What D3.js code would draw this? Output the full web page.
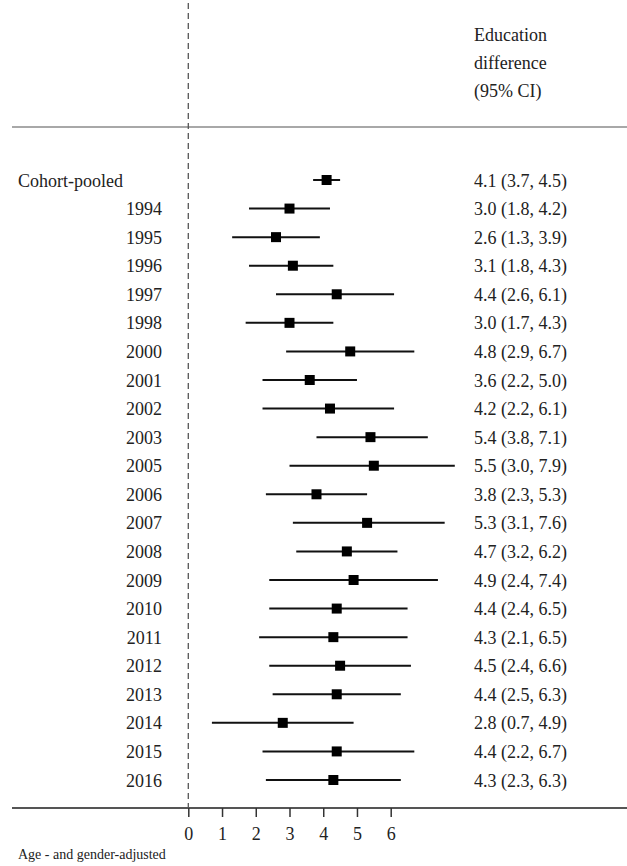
<!DOCTYPE html>
<html>
<head>
<meta charset="utf-8">
<script src="https://cdn.jsdelivr.net/npm/d3@7"></script>
<style>
  body { margin: 0; background: #fff; }
  svg text { font-family: "Liberation Serif", "Times New Roman", serif; fill: #222; }
</style>
</head>
<body>
<div id="chart"></div>
<script>
// rows of the forest plot, top to bottom
const labels = ['Cohort-pooled', '1994', '1995', '1996', '1997', '1998', '2000', '2001', '2002', '2003',
  '2005', '2006', '2007', '2008', '2009', '2010', '2011', '2012', '2013', '2014', '2015', '2016'];
const estimates = [4.1, 3.0, 2.6, 3.1, 4.4, 3.0, 4.8, 3.6, 4.2, 5.4, 5.5, 3.8, 5.3, 4.7, 4.9, 4.4, 4.3, 4.5, 4.4, 2.8, 4.4, 4.3];
const lower = [3.7, 1.8, 1.3, 1.8, 2.6, 1.7, 2.9, 2.2, 2.2, 3.8, 3.0, 2.3, 3.1, 3.2, 2.4, 2.4, 2.1, 2.4, 2.5, 0.7, 2.2, 2.3];
const upper = [4.5, 4.2, 3.9, 4.3, 6.1, 4.3, 6.7, 5.0, 6.1, 7.1, 7.9, 5.3, 7.6, 6.2, 7.4, 6.5, 6.5, 6.6, 6.3, 4.9, 6.7, 6.3];
const xTicks = [0, 1, 2, 3, 4, 5, 6];
const headerLines = ['Education', 'difference', '(95% CI)'];
const footnote = 'Age - and gender-adjusted';

const width = 627, height = 866;
const rows = labels.map((label, i) => ({ label, est: estimates[i], lo: lower[i], hi: upper[i] }));

const svg = d3.select('#chart').append('svg')
  .attr('width', width)
  .attr('height', height);

const x = d3.scaleLinear().domain([0, 6]).range([188.3, 390.7]);
const y = d3.scalePoint().domain(labels).range([180, 780]);
const axisY = 808;

// header
svg.append('g').selectAll('text')
  .data(headerLines)
  .enter().append('text')
  .attr('x', 474)
  .attr('y', (d, i) => 41 + i * 27.8)
  .attr('font-size', 18)
  .text(d => d);

svg.append('line')
  .attr('x1', 12).attr('x2', width)
  .attr('y1', 127).attr('y2', 127)
  .attr('stroke', '#a8a8a8')
  .attr('stroke-width', 2);

// reference line at zero
svg.append('line')
  .attr('x1', x(0)).attr('x2', x(0))
  .attr('y1', 3).attr('y2', axisY)
  .attr('stroke', '#555')
  .attr('stroke-width', 1.3)
  .attr('stroke-dasharray', '6,4');

// row labels
svg.append('g').selectAll('text')
  .data(rows)
  .enter().append('text')
  .attr('x', (d, i) => i === 0 ? 18 : 162)
  .attr('y', d => y(d.label) + 6.5)
  .attr('text-anchor', (d, i) => i === 0 ? 'start' : 'end')
  .attr('font-size', 18)
  .text(d => d.label);

// confidence intervals
svg.append('g').selectAll('line')
  .data(rows)
  .enter().append('line')
  .attr('x1', d => x(d.lo))
  .attr('x2', d => x(d.hi))
  .attr('y1', d => y(d.label))
  .attr('y2', d => y(d.label))
  .attr('stroke', '#111')
  .attr('stroke-width', 2);

// point estimates
const box = 10;
svg.append('g').selectAll('rect')
  .data(rows)
  .enter().append('rect')
  .attr('x', d => x(d.est) - box / 2)
  .attr('y', d => y(d.label) - box / 2)
  .attr('width', box)
  .attr('height', box)
  .attr('fill', '#000');

// estimate text column
svg.append('g').selectAll('text')
  .data(rows)
  .enter().append('text')
  .attr('x', 474)
  .attr('y', d => y(d.label) + 6.5)
  .attr('font-size', 18)
  .text(d => `${d.est.toFixed(1)} (${d.lo.toFixed(1)}, ${d.hi.toFixed(1)})`);

// bottom axis
svg.append('line')
  .attr('x1', 12).attr('x2', width)
  .attr('y1', axisY).attr('y2', axisY)
  .attr('stroke', '#555')
  .attr('stroke-width', 2);

const axis = svg.append('g')
  .attr('transform', `translate(0,${axisY})`)
  .call(d3.axisBottom(x).tickValues(xTicks).tickSize(9).tickPadding(10).tickFormat(d3.format('d')));
axis.select('.domain').remove();
axis.selectAll('.tick line').attr('stroke', '#333').attr('stroke-width', 1.5);
axis.selectAll('.tick text')
  .attr('font-size', 18)
  .style('font-family', '"Liberation Serif", "Times New Roman", serif')
  .attr('fill', '#222');

svg.append('text')
  .attr('x', 18)
  .attr('y', 859)
  .attr('font-size', 14)
  .text(footnote);
</script>
</body>
</html>
